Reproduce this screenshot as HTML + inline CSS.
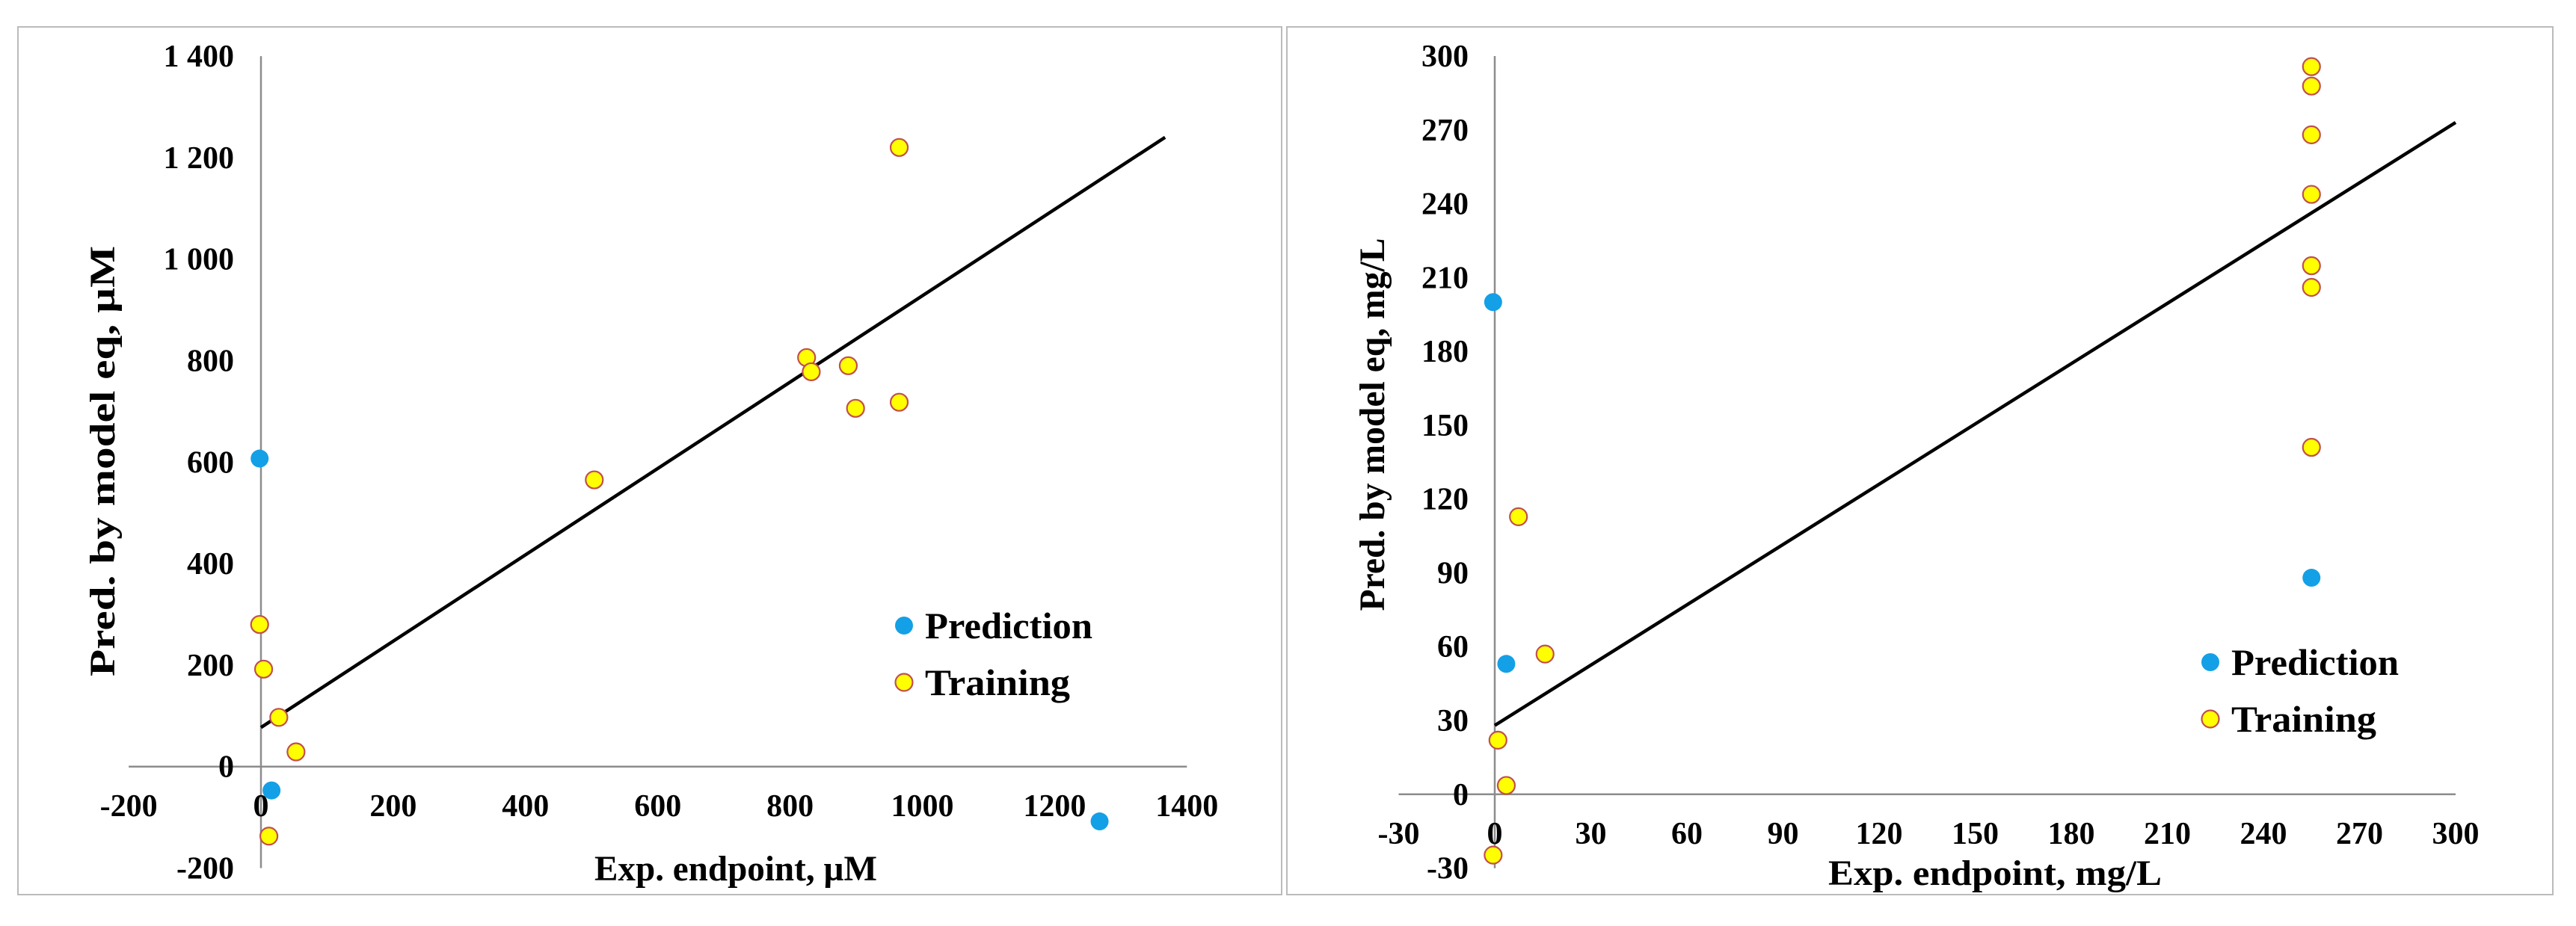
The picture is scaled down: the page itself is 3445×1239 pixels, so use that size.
<!DOCTYPE html>
<html><head><meta charset="utf-8"><style>
html,body{margin:0;padding:0;background:#fff}
svg{display:block}
text{font-family:"Liberation Serif",serif;font-weight:bold;fill:#000}
</style></head><body>
<svg id="s" width="3445" height="1239" viewBox="0 0 3445 1239">
<rect x="24" y="36" width="1690" height="1161" fill="none" stroke="#bbb" stroke-width="2"/>
<rect x="1721" y="36" width="1693" height="1161" fill="none" stroke="#bbb" stroke-width="2"/>
</svg>
<script>
// Left chart data (µM)
const leftTrainX=[-2,4,27,53,12,504,825,832,888,899,965,965];
const leftTrainY=[280,192,97,29,-137,565,806,778,790,706,718,1220];
const leftPredX=[-2,16,1268];
const leftPredY=[607,-47,-108];
const leftLine=[[0,77],[1367,1240]];
const leftXTicks=[-200,0,200,400,600,800,1000,1200,1400];
const leftYTicks=[-200,0,200,400,600,800,1000,1200,1400];
const leftYLabels=["-200","0","200","400","600","800","1 000","1 200","1 400"];
// Right chart data (mg/L)
const rightTrainX=[255,255,255,255,255,255,255,7.4,15.7,1,3.6,-0.5];
const rightTrainY=[295.7,287.8,268,243.8,214.8,206,141,112.8,57,22,3.6,-24.7];
const rightPredX=[-0.5,3.6,255];
const rightPredY=[200,53,88];
const rightLine=[[0,28],[300,273]];
const rightXTicks=[-30,0,30,60,90,120,150,180,210,240,270,300];
const rightYTicks=[-30,0,30,60,90,120,150,180,210,240,270,300];

const NS="http://www.w3.org/2000/svg";
const svg=document.getElementById('s');
function mk(tag,attrs,txt){const e=document.createElementNS(NS,tag);for(const k in attrs)e.setAttribute(k,attrs[k]);if(txt!==undefined)e.textContent=txt;svg.appendChild(e);return e;}

function chart(o){
  const sx=v=>o.x0+(v-0)*o.px;
  const sy=v=>o.y0-(v-0)*o.py;
  let e;
  e=mk('line',{x1:sx(o.xmin),x2:sx(o.xmax),y1:sy(0),y2:sy(0),stroke:'#8c8c8c','stroke-width':2.5});
  
  
  e=mk('line',{x1:sx(0),x2:sx(0),y1:sy(o.ymax),y2:sy(o.ymin),stroke:'#8c8c8c','stroke-width':2.5});
  
  
  o.xt.forEach(v=>{
    e=mk('text',{x:sx(v),y:o.xly,'text-anchor':'middle','font-size':42},String(v));
    
    
  });
  o.yt.forEach((v,i)=>{
    e=mk('text',{x:o.ylx,y:sy(v)+14,'text-anchor':'end','font-size':42},o.yl?o.yl[i]:String(v));
    
    
  });
  e=mk('line',{x1:sx(o.line[0][0]),y1:sy(o.line[0][1]),x2:sx(o.line[1][0]),y2:sy(o.line[1][1]),stroke:'#000','stroke-width':4.5});
  
  
  o.px_.forEach((x,i)=>{
    e=mk('ellipse',{cx:sx(x),cy:sy(o.py_[i]),rx:12,ry:12,fill:'#13a0e6'});
    
    
  });
  o.tx.forEach((x,i)=>{
    e=mk('ellipse',{cx:sx(x),cy:sy(o.ty[i]),rx:11.5,ry:11.5,fill:'#ffff00',stroke:'#c0504d','stroke-width':2.2});
    
    
  });
  e=mk('ellipse',{cx:o.lgx,cy:o.lgy,rx:12,ry:12,fill:'#13a0e6'});
  
  
  e=mk('text',{x:o.lgx+28,y:o.lgy+17,'font-size':50,textLength:224,lengthAdjust:'spacingAndGlyphs'},'Prediction');
  
  
  e=mk('ellipse',{cx:o.lgx,cy:o.lgy+76,rx:11.5,ry:11.5,fill:'#ffff00',stroke:'#c0504d','stroke-width':2.2});
  
  
  e=mk('text',{x:o.lgx+28,y:o.lgy+93,'font-size':50,textLength:194,lengthAdjust:'spacingAndGlyphs'},'Training');
  
  
  e=mk('text',{x:o.xtx,y:o.xty,'text-anchor':'middle','font-size':48,textLength:o.xtl,lengthAdjust:'spacingAndGlyphs'},o.xtitle);
  
  
  e=mk('text',{x:0,y:0,'text-anchor':'middle','font-size':48,textLength:o.ytl,lengthAdjust:'spacingAndGlyphs',transform:`translate(${o.ytx},${o.yty}) rotate(-90)`},o.ytitle);
  
  
}
chart({p:'left',x0:349,y0:1025.7,px:176.9/200,py:135.8/200,xmin:-200,xmax:1400,ymin:-200,ymax:1400,
  xt:leftXTicks,yt:leftYTicks,yl:leftYLabels,xly:1092,ylx:313,line:leftLine,
  px_:leftPredX,py_:leftPredY,tx:leftTrainX,ty:leftTrainY,lgx:1209,lgy:837,
  xtitle:'Exp. endpoint,  µM',xtx:984,xty:1178,xtl:378,ytitle:'Pred. by model eq, µM',ytx:153,yty:617,ytl:576});
chart({p:'right',x0:1999,y0:1062.8,px:128.5/30,py:98.78/30,xmin:-30,xmax:300,ymin:-30,ymax:300,
  xt:rightXTicks,yt:rightYTicks,xly:1129,ylx:1964,line:rightLine,
  px_:rightPredX,py_:rightPredY,tx:rightTrainX,ty:rightTrainY,lgx:2956,lgy:886,
  xtitle:'Exp. endpoint,  mg/L',xtx:2668,xty:1184,xtl:446,ytitle:'Pred. by model eq, mg/L',ytx:1851,yty:568,ytl:499});
</script>
</body></html>
